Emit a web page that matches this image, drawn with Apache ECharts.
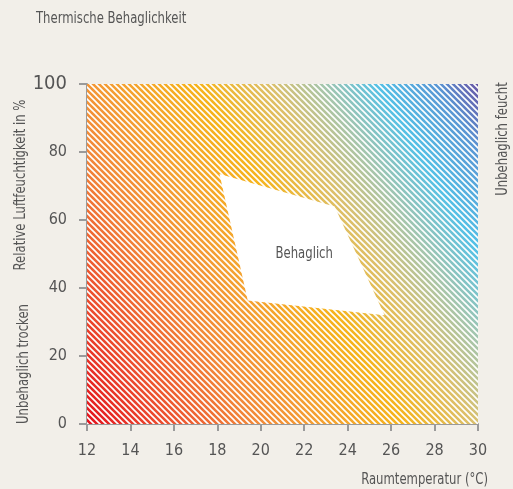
<!DOCTYPE html>
<html>
<head>
<meta charset="utf-8">
<script src="https://cdn.jsdelivr.net/npm/echarts@6/dist/echarts.min.js"></script>
<style>
  html, body { margin: 0; padding: 0; background: #f2efe9; }
  #main { width: 513px; height: 489px; }
</style>
</head>
<body>
<div id="main"></div>
<script>
// Achsenbereiche
var tempRange = [12, 30];
var humRange = [0, 100];
// Behaglichkeitsfeld (Temperatur / rel. Feuchte der Eckpunkte)
var comfortTemp = [18.1, 23.4, 25.7, 19.4];
var comfortHum = [73.5, 64, 32, 36.3];
var comfortCenter = [22, 50];

var FONT = "'Liberation Sans Narrow', 'DejaVu Sans Condensed', 'Roboto', sans-serif";
var TXT = '#555';
var SQ = 0.81; // schmalere Schrift

// weisse Schraffur
function stripeTile() {
  var s = 6;
  var c = document.createElement('canvas');
  c.width = s; c.height = s;
  var ctx = c.getContext('2d');
  ctx.strokeStyle = '#fff';
  ctx.lineWidth = 1.6;
  ctx.beginPath();
  ctx.moveTo(-1, -1); ctx.lineTo(s + 1, s + 1);
  ctx.moveTo(-1, s - 1); ctx.lineTo(1, s + 1);
  ctx.moveTo(s - 1, -1); ctx.lineTo(s + 1, 1);
  ctx.stroke();
  return c;
}
var tile = stripeTile();

var chartDom = document.getElementById('main');
var myChart = echarts.init(chartDom);

var option = {
  backgroundColor: '#f2efe9',
  animation: false,
  grid: { left: 87, right: 35, top: 84, bottom: 65 },
  xAxis: {
    type: 'value',
    min: tempRange[0],
    max: tempRange[1],
    interval: 2,
    splitLine: { show: false },
    axisLine: { show: true, onZero: false, lineStyle: { color: '#9a9a9a', width: 2 } },
    axisTick: { show: true, length: 7, lineStyle: { color: '#9a9a9a', width: 2 } },
    axisLabel: { color: TXT, fontSize: 16, fontFamily: FONT, margin: 19 }
  },
  yAxis: {
    type: 'value',
    min: humRange[0],
    max: humRange[1],
    interval: 20,
    splitLine: { show: false },
    axisLine: { show: true, onZero: false, lineStyle: { color: '#9a9a9a', width: 2 } },
    axisTick: { show: true, length: 8, lineStyle: { color: '#9a9a9a', width: 2 } },
    axisLabel: {
      color: TXT, fontSize: 16, fontFamily: FONT, margin: 20,
      formatter: function (v) { return v === 100 ? '{big|100}' : v; },
      rich: { big: { fontSize: 20, fontFamily: FONT, color: TXT } }
    }
  },
  graphic: [
    { type: 'text', x: 36, y: 19, scaleX: SQ,
      style: { text: 'Thermische Behaglichkeit', fill: TXT, font: '16px ' + FONT, align: 'left', verticalAlign: 'middle' } },
    { type: 'text', x: 21, y: 185, rotation: Math.PI / 2, scaleX: SQ,
      style: { text: 'Relative Luftfeuchtigkeit in %', fill: TXT, font: '16px ' + FONT, align: 'center', verticalAlign: 'middle' } },
    { type: 'text', x: 24, y: 364, rotation: Math.PI / 2, scaleX: SQ,
      style: { text: 'Unbehaglich trocken', fill: TXT, font: '16px ' + FONT, align: 'center', verticalAlign: 'middle' } },
    { type: 'text', x: 503, y: 139, rotation: Math.PI / 2, scaleX: SQ,
      style: { text: 'Unbehaglich feucht', fill: TXT, font: '16px ' + FONT, align: 'center', verticalAlign: 'middle' } },
    { type: 'text', x: 488, y: 480, scaleX: SQ,
      style: { text: 'Raumtemperatur (°C)', fill: TXT, font: '16px ' + FONT, align: 'right', verticalAlign: 'middle' } }
  ],
  series: [
    {
      // Farbverlauf + Schraffur
      type: 'custom',
      silent: true,
      data: [[tempRange[0], humRange[0], tempRange[1], humRange[1]]],
      renderItem: function (params, api) {
        var p0 = api.coord([api.value(0), api.value(1)]);
        var p1 = api.coord([api.value(2), api.value(3)]);
        var shape = { x: p0[0], y: p1[1], width: p1[0] - p0[0], height: p0[1] - p1[1] };
        return {
          type: 'group',
          children: [
            {
              type: 'rect', shape: shape,
              style: {
                fill: new echarts.graphic.LinearGradient(0, 1, 1.12, 0.227, [
                  { offset: 0, color: '#e3141e' },
                  { offset: 0.12, color: '#ec4a2e' },
                  { offset: 0.28, color: '#f2893a' },
                  { offset: 0.4, color: '#f4a232' },
                  { offset: 0.53, color: '#f6b41c' },
                  { offset: 0.65, color: '#dcc06c' },
                  { offset: 0.74, color: '#a4c6ae' },
                  { offset: 0.83, color: '#55c1e6' },
                  { offset: 0.93, color: '#5a97d4' },
                  { offset: 1, color: '#6a55a4' }
                ])
              }
            },
            {
              type: 'rect', shape: shape,
              style: { fill: { image: tile, repeat: 'repeat' } }
            }
          ]
        };
      }
    },
    {
      // Behaglichkeitsfeld
      type: 'custom',
      silent: true,
      data: [comfortCenter],
      renderItem: function (params, api) {
        var pts = comfortTemp.map(function (t, i) { return api.coord([t, comfortHum[i]]); });
        var c = api.coord([api.value(0), api.value(1)]);
        return {
          type: 'group',
          children: [
            { type: 'polygon', shape: { points: pts }, style: { fill: '#fff' } },
            { type: 'text', x: c[0], y: c[1], scaleX: SQ,
              style: { text: 'Behaglich', fill: TXT, font: '16px ' + FONT, align: 'center', verticalAlign: 'middle' } }
          ]
        };
      }
    }
  ]
};

myChart.setOption(option);
</script>
</body>
</html>
